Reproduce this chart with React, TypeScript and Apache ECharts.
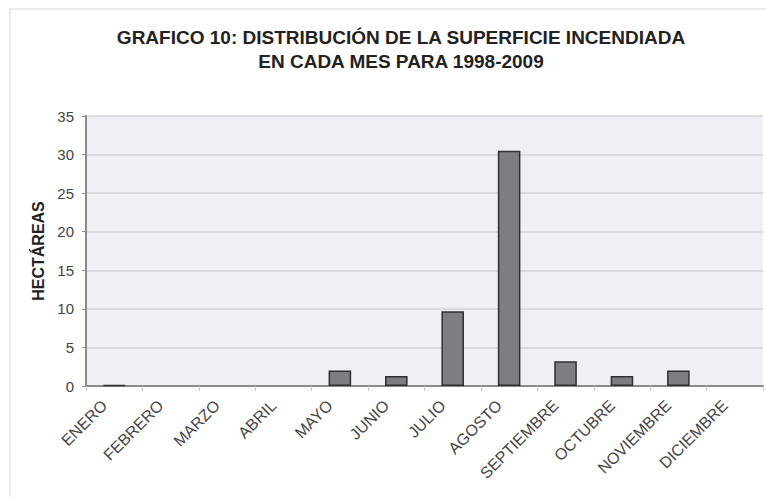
import React, { useEffect, useRef } from "react";
import * as echarts from "echarts";

const titleLines = [
  "GRAFICO 10: DISTRIBUCIÓN DE LA SUPERFICIE INCENDIADA",
  "EN CADA MES PARA 1998-2009",
];
const months = [
  "ENERO", "FEBRERO", "MARZO", "ABRIL", "MAYO", "JUNIO",
  "JULIO", "AGOSTO", "SEPTIEMBRE", "OCTUBRE", "NOVIEMBRE", "DICIEMBRE",
];
const hectareas = [0.1, 0, 0, 0, 2.0, 1.3, 9.7, 30.5, 3.2, 1.3, 2.0, 0];
const yAxisName = "HECTÁREAS";

export default function App() {
  const ref = useRef<HTMLDivElement>(null);
  useEffect(() => {
    if (!ref.current) return;
    const chart = echarts.init(ref.current, undefined, { renderer: "svg" });
    const font = "'Liberation Sans', Arial, sans-serif";
    chart.setOption({
      animation: false,
      backgroundColor: "#ffffff",
      textStyle: { fontFamily: font },
      title: {
        text: titleLines.join("\n"),
        left: 396,
        top: 20,
        textAlign: "center",
        textStyle: {
          fontFamily: font,
          fontSize: 19,
          fontWeight: "bold",
          color: "#222",
          lineHeight: 24,
        },
      },
      graphic: [
        {
          type: "rect",
          shape: { x: 10, y: 9, width: 800, height: 600 },
          style: { fill: "none", stroke: "#d6d6d6", lineWidth: 1 },
          silent: true,
          z: -10,
        },
      ],
      grid: {
        left: 86,
        right: 3,
        top: 116,
        bottom: 111,
        show: true,
        backgroundColor: "#eef0f3",
        borderWidth: 0,
      },
      xAxis: {
        type: "category",
        data: months,
        axisLine: { show: true, lineStyle: { color: "#8a8a8a", width: 2 } },
        axisTick: { show: true, length: 5, lineStyle: { color: "#c8c8c8" } },
        axisLabel: {
          rotate: 45,
          fontSize: 16,
          color: "#444",
          margin: 7,
          padding: [0, 14, 0, 0],
          interval: 0,
          fontFamily: font,
        },
      },
      yAxis: {
        type: "value",
        min: 0,
        max: 35,
        interval: 5,
        name: yAxisName,
        nameLocation: "middle",
        nameGap: 40,
        nameRotate: 90,
        nameTextStyle: {
          fontFamily: font,
          fontSize: 16,
          fontWeight: "bold",
          color: "#222",
        },
        axisLine: { show: true, lineStyle: { color: "#8a8a8a", width: 2 } },
        axisTick: { show: true, length: 4, lineStyle: { color: "#8a8a8a" } },
        axisLabel: { fontSize: 15, color: "#444", margin: 12, fontFamily: font },
        splitLine: { show: true, lineStyle: { color: "#d2d3d6", width: 1.5 } },
      },
      series: [
        {
          type: "bar",
          data: hectareas.map((v) =>
            v === 0 ? { value: v, itemStyle: { borderWidth: 0 } } : v
          ),
          barWidth: "40%",
          itemStyle: {
            color: "#7d7e81",
            borderColor: "#2f2f2f",
            borderWidth: 1.5,
          },
        },
      ],
    });
    return () => chart.dispose();
  }, []);
  return (
    <div
      ref={ref}
      style={{ position: "fixed", left: 0, top: 0, width: 766, height: 497 }}
    />
  );
}
